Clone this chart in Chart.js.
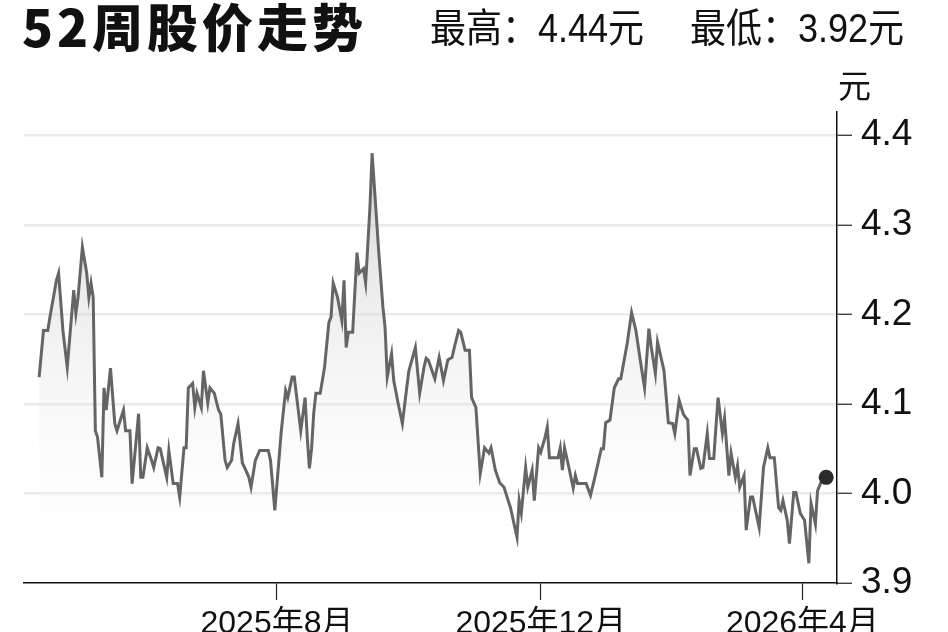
<!DOCTYPE html>
<html>
<head>
<meta charset="utf-8">
<script src="https://cdn.jsdelivr.net/npm/chart.js@4.4.1/dist/chart.umd.min.js"></script>
<style>
  html, body { margin: 0; padding: 0; background: #fff; }
  #wrap { position: relative; width: 948px; height: 632px; overflow: hidden; }
  #c { position: absolute; left: 0; top: 0; }
  .txt { position: absolute; white-space: nowrap; color: #111; font-family: 'Liberation Sans', 'Noto Sans CJK SC', sans-serif; transform-origin: 0 0; }
  #title { left: 22px; top: -12px; font-size: 51px; font-weight: 900; font-family: 'Noto Sans CJK SC', sans-serif; letter-spacing: 4px; }
  #hi { left: 430px; top: -4px; font-size: 40px; transform: scaleX(0.9); }
  #lo { left: 690px; top: -4px; font-size: 40px; transform: scaleX(0.9); }
  #unit { left: 838px; top: 60px; font-size: 33px; font-family: 'Noto Sans CJK SC', sans-serif; }
</style>
</head>
<body>
<div id="wrap">
  <canvas id="c" width="948" height="632"></canvas>
  <div class="txt" id="title">52周股价走势</div>
  <div class="txt" id="hi">最高：4.44元</div>
  <div class="txt" id="lo">最低：3.92元</div>
  <div class="txt" id="unit">元</div>
</div>
<script>
// ---- data ----
const dates = [
'2025-04-13','2025-04-15','2025-04-17','2025-04-18','2025-04-21','2025-04-22','2025-04-24','2025-04-26','2025-04-29','2025-04-30',
'2025-05-01','2025-05-03','2025-05-05','2025-05-06','2025-05-07','2025-05-08','2025-05-09','2025-05-10','2025-05-12','2025-05-13',
'2025-05-14','2025-05-16','2025-05-18','2025-05-19','2025-05-22','2025-05-23','2025-05-25','2025-05-26','2025-05-29','2025-05-30',
'2025-05-31','2025-06-02','2025-06-04','2025-06-05','2025-06-07','2025-06-08','2025-06-11','2025-06-12','2025-06-14','2025-06-16',
'2025-06-17','2025-06-19','2025-06-20','2025-06-21','2025-06-23','2025-06-24','2025-06-25','2025-06-27','2025-06-28','2025-06-30',
'2025-07-01','2025-07-03','2025-07-05','2025-07-06','2025-07-08','2025-07-09','2025-07-11','2025-07-12','2025-07-14','2025-07-16',
'2025-07-17','2025-07-19','2025-07-20','2025-07-22','2025-07-24','2025-07-26','2025-07-28','2025-07-29','2025-07-31','2025-08-03',
'2025-08-05','2025-08-06','2025-08-08','2025-08-09','2025-08-12','2025-08-14','2025-08-15','2025-08-16','2025-08-17','2025-08-18',
'2025-08-19','2025-08-21','2025-08-23','2025-08-25','2025-08-26','2025-08-27','2025-08-29','2025-08-31','2025-09-01','2025-09-02',
'2025-09-03','2025-09-05','2025-09-07','2025-09-08','2025-09-10','2025-09-11','2025-09-13','2025-09-14','2025-09-16','2025-09-17',
'2025-09-19','2025-09-20','2025-09-21','2025-09-23','2025-09-24','2025-09-26','2025-09-28','2025-09-30','2025-10-01','2025-10-04',
'2025-10-06','2025-10-08','2025-10-09','2025-10-10','2025-10-13','2025-10-15','2025-10-17','2025-10-19','2025-10-21','2025-10-22',
'2025-10-24','2025-10-25','2025-10-27','2025-10-29','2025-10-30','2025-11-01','2025-11-03','2025-11-05','2025-11-07','2025-11-08',
'2025-11-10','2025-11-12','2025-11-14','2025-11-17','2025-11-20','2025-11-21','2025-11-22','2025-11-24','2025-11-25','2025-11-27',
'2025-11-28','2025-11-30','2025-12-01','2025-12-03','2025-12-04','2025-12-05','2025-12-06','2025-12-09','2025-12-10','2025-12-11',
'2025-12-12','2025-12-14','2025-12-16','2025-12-17','2025-12-18','2025-12-22','2025-12-24','2025-12-26','2025-12-29','2025-12-30',
'2025-12-31','2026-01-02','2026-01-04','2026-01-06','2026-01-07','2026-01-10','2026-01-12','2026-01-14','2026-01-16','2026-01-18',
'2026-01-20','2026-01-21','2026-01-23','2026-01-24','2026-01-27','2026-01-29','2026-01-31','2026-02-01','2026-02-03','2026-02-05',
'2026-02-07','2026-02-08','2026-02-10','2026-02-11','2026-02-13','2026-02-14','2026-02-16','2026-02-17','2026-02-19','2026-02-20',
'2026-02-21','2026-02-23','2026-02-24','2026-02-26','2026-02-27','2026-03-01','2026-03-02','2026-03-03','2026-03-05','2026-03-06',
'2026-03-08','2026-03-09','2026-03-12','2026-03-14','2026-03-16','2026-03-17','2026-03-19','2026-03-21','2026-03-22','2026-03-23',
'2026-03-25','2026-03-26','2026-03-28','2026-03-29','2026-03-31','2026-04-02','2026-04-04','2026-04-05','2026-04-07','2026-04-08',
'2026-04-10','2026-04-12'
];
const prices = [
4.130,4.182,4.182,4.197,4.238,4.246,4.182,4.141,4.227,4.201,
4.219,4.275,4.246,4.219,4.235,4.219,4.070,4.063,4.018,4.118,
4.093,4.140,4.078,4.070,4.093,4.070,4.070,4.011,4.089,4.018,
4.018,4.051,4.037,4.029,4.051,4.050,4.018,4.048,4.011,4.011,
3.996,4.051,4.051,4.118,4.123,4.096,4.112,4.096,4.137,4.101,
4.118,4.112,4.093,4.089,4.037,4.029,4.037,4.056,4.078,4.034,
4.029,4.018,4.007,4.037,4.048,4.048,4.048,4.037,3.981,4.070,
4.115,4.107,4.130,4.130,4.070,4.107,4.063,4.028,4.050,4.090,
4.112,4.112,4.141,4.191,4.197,4.235,4.219,4.193,4.238,4.163,
4.180,4.180,4.269,4.246,4.251,4.235,4.320,4.380,4.308,4.272,
4.208,4.185,4.130,4.156,4.126,4.101,4.078,4.118,4.137,4.163,
4.112,4.141,4.151,4.149,4.128,4.152,4.126,4.149,4.152,4.163,
4.182,4.180,4.160,4.160,4.107,4.096,4.022,4.051,4.045,4.051,
4.026,4.012,4.007,3.984,3.951,3.992,3.978,4.029,4.007,4.026,
3.992,4.051,4.046,4.063,4.074,4.040,4.040,4.040,4.051,4.026,
4.051,4.029,4.006,4.020,4.011,4.011,3.998,4.018,4.050,4.050,
4.079,4.082,4.118,4.128,4.128,4.168,4.202,4.182,4.149,4.118,
4.184,4.165,4.134,4.169,4.137,4.079,4.078,4.067,4.104,4.088,
4.082,4.020,4.050,4.050,4.028,4.029,4.067,4.039,4.039,4.074,
4.107,4.067,4.084,4.020,4.045,4.018,4.031,4.007,4.020,3.959,
3.996,3.996,3.962,4.029,4.051,4.040,4.040,3.984,3.981,3.992,
3.970,3.944,4.001,4.001,3.978,3.970,3.922,3.989,3.966,4.003,
4.015,4.018
];
const yTicks = [3.9, 4.0, 4.1, 4.2, 4.3, 4.4];
const xTickDates = ['2025-08-01', '2025-12-01', '2026-04-01'];
const xTickLabels = ['2025年8月', '2025年12月', '2026年4月'];
const xRange = ['2025-04-06', '2026-04-17'];
const yRange = [3.9, 4.426];

// ---- helpers ----
const DAY = 86400000;
const toDay = s => Date.UTC(+s.slice(0,4), +s.slice(5,7) - 1, +s.slice(8,10)) / DAY;
const points = dates.map((d, i) => ({ x: toDay(d), y: prices[i] }));
const xTickDays = xTickDates.map(toDay);
const lastIdx = points.length - 1;

const axisFamily = "'Liberation Sans', 'Noto Sans CJK SC', sans-serif";

new Chart(document.getElementById('c'), {
  type: 'line',
  data: {
    datasets: [{
      data: points,
      borderColor: '#656565',
      borderWidth: 3,
      tension: 0,
      fill: 'start',
      backgroundColor: (ctx) => {
        const ca = ctx.chart.chartArea;
        if (!ca) return 'rgba(0,0,0,0.05)';
        const g = ctx.chart.ctx.createLinearGradient(0, ca.top, 0, ca.bottom);
        g.addColorStop(0, 'rgba(160,160,160,0.55)');
        g.addColorStop(0.4, 'rgba(205,205,205,0.35)');
        g.addColorStop(1, 'rgba(255,255,255,0)');
        return g;
      },
      pointRadius: points.map((p, i) => i === lastIdx ? 7.5 : 0),
      pointHoverRadius: 0,
      pointBackgroundColor: '#2b2b2b',
      pointBorderColor: '#2b2b2b',
      pointBorderWidth: 0
    }]
  },
  options: {
    responsive: false,
    animation: false,
    events: [],
    layout: { padding: { left: 24, top: 112, right: 0, bottom: 0 } },
    plugins: { legend: { display: false }, tooltip: { enabled: false }, title: { display: false } },
    scales: {
      x: {
        type: 'linear',
        min: toDay(xRange[0]),
        max: toDay(xRange[1]),
        afterBuildTicks: (s) => { s.ticks = xTickDays.map(v => ({ value: v })); },
        afterFit: (s) => { s.height = 49; },
        border: { display: true, color: '#111', width: 1.5 },
        grid: { drawOnChartArea: false, drawTicks: true, tickLength: 17, tickColor: '#222', tickWidth: 1.2 },
        ticks: {
          autoSkip: false, maxRotation: 0, padding: 5, color: '#111',
          font: { family: axisFamily, size: 32 },
          callback: (v) => { const i = xTickDays.indexOf(v); return i >= 0 ? xTickLabels[i] : ''; }
        }
      },
      y: {
        position: 'right',
        min: yRange[0],
        max: yRange[1],
        afterBuildTicks: (s) => { s.ticks = yTicks.map(v => ({ value: v })); },
        afterFit: (s) => { s.width = 948 - 837; },
        border: { display: true, color: '#111', width: 1.5 },
        grid: {
          drawOnChartArea: true,
          color: (c) => (c.tick && c.tick.value === yTicks[0]) ? 'rgba(0,0,0,0)' : '#ebebeb',
          lineWidth: 2.5,
          drawTicks: true, tickLength: 15, tickColor: '#222', tickWidth: 1.2
        },
        ticks: {
          padding: 9, color: '#111', font: { family: axisFamily, size: 37 },
          callback: (v) => v.toFixed(1)
        }
      }
    }
  }
});
</script>
</body>
</html>
